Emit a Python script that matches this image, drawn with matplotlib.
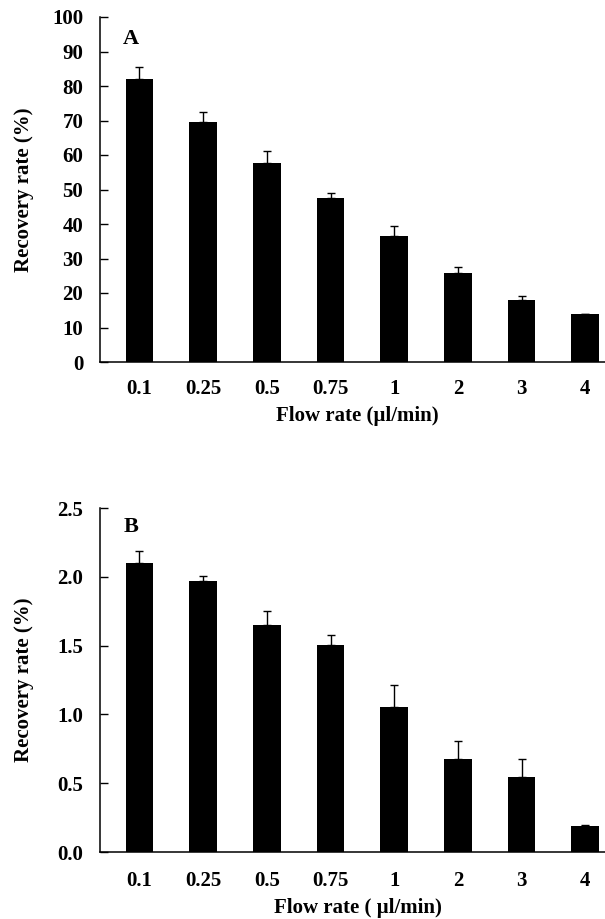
import matplotlib
matplotlib.use("Agg")
import matplotlib.pyplot as plt
import numpy as np

plt.rcParams['font.family'] = ['Liberation Serif', 'DejaVu Serif']
plt.rcParams['font.weight'] = 'bold'
plt.rcParams['font.size'] = 15

# Flow rates (categories)
flow_rates = ["0.1", "0.25", "0.5", "0.75", "1", "2", "3", "4"]

# Panel A: recovery rate (%) and upper error
recovery_a = [82.1, 69.6, 57.6, 47.4, 36.6, 25.8, 18.0, 13.8]
error_a = [3.5, 2.9, 3.6, 1.7, 2.8, 1.7, 1.1, 0.0]

# Panel B: recovery rate (%) and upper error
recovery_b = [2.10, 1.966, 1.651, 1.504, 1.054, 0.679, 0.544, 0.186]
error_b = [0.089, 0.041, 0.099, 0.072, 0.160, 0.131, 0.131, 0.010]

W, H = 605, 919


def draw_panel(ax, values, errors, yticks, yfmt, letter, letter_y, xlabel, xlabel_y, xpad):
    x = np.arange(len(flow_rates))
    ax.bar(x, values, width=0.435, color="black", zorder=2)
    ax.errorbar(x, values, yerr=[np.zeros(len(errors)), errors], fmt="none",
                ecolor="black", elinewidth=1.0, capsize=3.2, capthick=1.0, zorder=1)
    ax.set_xlim(-0.62, 7.31)
    ax.set_ylim(yticks[0], yticks[-1])
    ax.set_xticks(x)
    ax.set_xticklabels(flow_rates)
    ax.set_yticks(yticks)
    ax.set_yticklabels([yfmt.format(v) for v in yticks])
    ax.tick_params(axis="x", length=0, pad=xpad)
    ax.tick_params(axis="y", direction="in", length=5.5, width=1.0, pad=12)
    for s in ["top", "right"]:
        ax.spines[s].set_visible(False)
    for s in ["left", "bottom"]:
        ax.spines[s].set_linewidth(1.1)
    ax.text(-0.13, letter_y, letter, fontsize=16, fontweight="bold",
            ha="center", va="center")
    ax.set_xlabel(xlabel, fontweight="bold")
    ax.xaxis.set_label_coords(0.51, xlabel_y)
    ax.set_ylabel("Recovery rate (%)", fontweight="bold")
    ax.yaxis.set_label_coords(-0.131, 0.5)


fig = plt.figure(figsize=(W / 100, H / 100), dpi=100)
left = 100 / W
ax_a = fig.add_axes([left, 1 - 362 / H, 1 - left, 345 / H])
ax_b = fig.add_axes([left, 1 - 852 / H, 1 - left, 344 / H])

draw_panel(ax_a, recovery_a, error_a, list(range(0, 101, 10)), "{:d}",
           "A", 93.5, "Flow rate (µl/min)", -0.128, 12)
draw_panel(ax_b, recovery_b, error_b, [0.0, 0.5, 1.0, 1.5, 2.0, 2.5], "{:.1f}",
           "B", 2.36, "Flow rate ( µl/min)", -0.134, 14)

fig.savefig("out.png", dpi=100)
